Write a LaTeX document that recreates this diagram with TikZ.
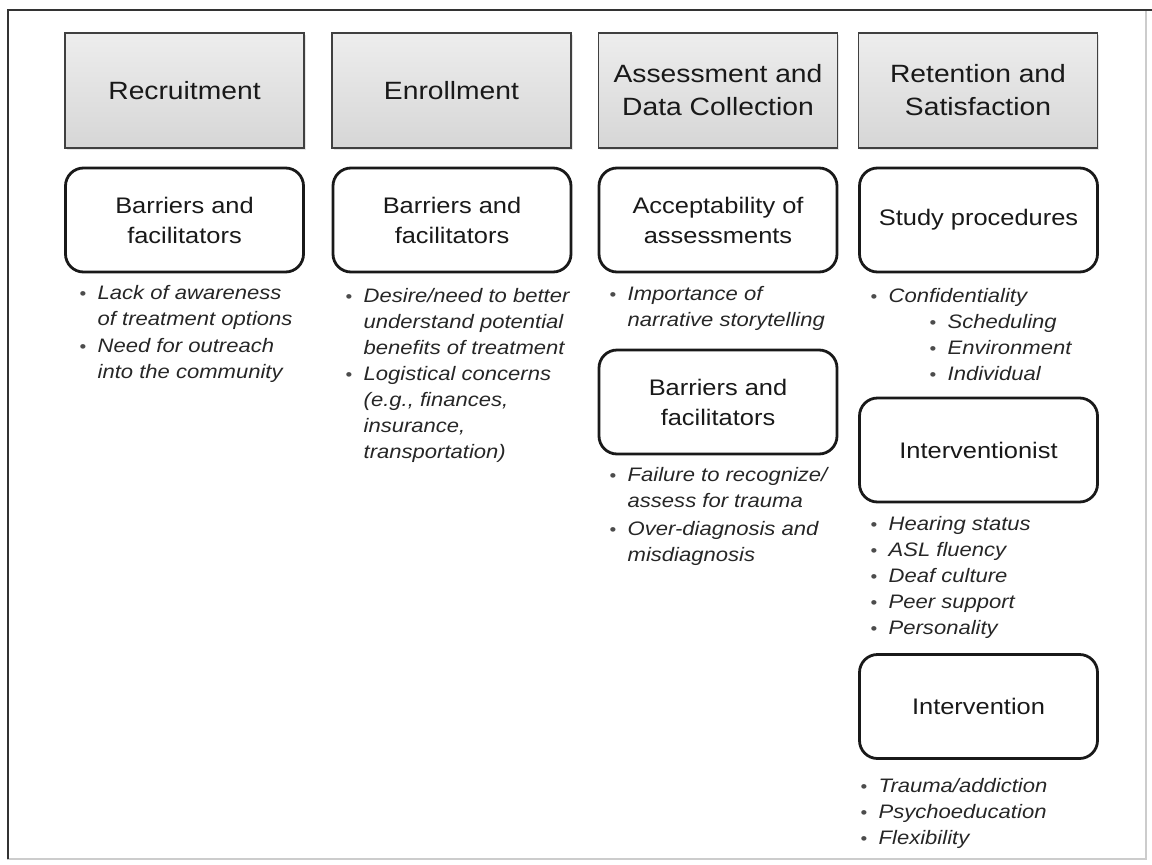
\documentclass[tikz,border=0pt]{standalone}
\usepackage{fontspec}
\setmainfont{Liberation Sans}[FakeStretch=1.13]
\usetikzlibrary{shadows}

\tikzset{
  phase/.style={draw=black!75, line width=1.2pt, top color=gray!14, bottom color=gray!32,
    minimum width=239pt, minimum height=115pt, align=center, text=black!90,
    font=\fontsize{25}{33}\selectfont,
    drop shadow={opacity=0.2, shadow xshift=1.5pt, shadow yshift=-2pt}},
  theme/.style={draw=black!90, line width=2.8pt, rounded corners=18pt, fill=white,
    minimum width=238pt, minimum height=104pt, align=center, text=black!90,
    font=\fontsize{22.5}{30}\selectfont},
  notes/.style={anchor=north west, inner sep=0pt, align=left, text=black!85,
    font=\fontsize{19.5}{26}\selectfont\itshape},
}
\newcommand{\bul}{\strut\makebox[18pt][l]{\textcolor{black!70}{\fontsize{17}{17}\selectfont\upshape\textbullet}}}
\newcommand{\gap}{\hspace*{18pt}}

\begin{document}
\begin{tikzpicture}[x=1pt, y=-1pt]

	\useasboundingbox (0, 0) rectangle (1152, 865);

	% frame
	\draw[gray!40, line width=1.5pt] (8, 10) rectangle (1146, 859);
	\draw[black!80, line width=2.2pt] (8, 859) -- (8, 10) -- (1152, 10);

	% phases
	\node[phase] (hRec) at (184.5, 90.5) {Recruitment};
	\node[phase] (hEnr) at (451.5, 90.5) {Enrollment};
	\node[phase] (hAss) at (718, 90.5) {Assessment and\\Data Collection};
	\node[phase] (hRet) at (978, 90.5) {Retention and\\Satisfaction};

	% recruitment
	\node[theme] (bRec) at (184.5, 220) {Barriers and\\facilitators};
	\node[notes] (nRec) at (79.5, 281) {\bul Lack of awareness\\ \gap of treatment options\\[1pt]
		\bul Need for outreach\\ \gap into the community};

	% enrollment
	\node[theme] (bEnr) at (452, 220) {Barriers and\\facilitators};
	\node[notes] (nEnr) at (345.5, 284) {\bul Desire/need to better\\ \gap understand potential\\
		\gap benefits of treatment\\ \bul Logistical concerns\\ \gap (e.g., finances,\\
		\gap insurance,\\ \gap transportation)};

	% assessment
	\node[theme] (aAss) at (718, 220) {Acceptability of\\assessments};
	\node[notes] (nAcc) at (609.5, 282) {\bul Importance of\\ \gap narrative storytelling};
	\node[theme] (bAss) at (718, 402) {Barriers and\\facilitators};
	\node[notes] (nAss) at (609.5, 463) {\bul Failure to recognize/\\ \gap assess for trauma\\[2pt]
		\bul Over-diagnosis and\\ \gap misdiagnosis};

	% retention
	\node[theme] (sRet) at (978.5, 220) {Study procedures};
	\node[notes] (nSty) at (870.5, 284) {\bul Confidentiality\\
		\hspace*{59pt}\bul Scheduling\\ \hspace*{59pt}\bul Environment\\
		\hspace*{59pt}\bul Individual};
	\node[theme] (iRet) at (978.5, 450) {Interventionist};
	\node[notes] (nInt) at (870.5, 512) {\bul Hearing status\\ \bul ASL fluency\\
		\bul Deaf culture\\ \bul Peer support\\ \bul Personality};
	\node[theme] (vRet) at (978.5, 706.5) {Intervention};
	\node[notes] (nVen) at (860.5, 774) {\bul Trauma/addiction\\ \bul Psychoeducation\\
		\bul Flexibility};

\end{tikzpicture}
\end{document}
